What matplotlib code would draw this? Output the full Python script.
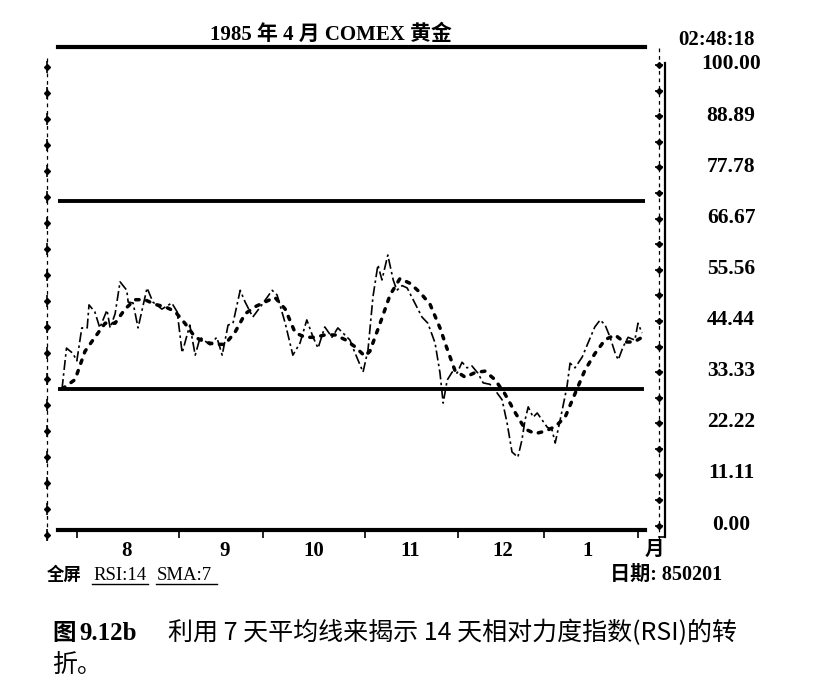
import matplotlib
matplotlib.use("Agg")
import matplotlib.pyplot as plt
import numpy as np

# ---------------- data ----------------
title = "1985 年 4 月 COMEX 黄金"
rsi_day = [0.0, 1.0, 2.4, 3.3, 4.4, 5.6, 6.0, 7.3, 8.4, 10.0, 10.7, 11.8, 12.9, 14.4, 14.7,
           15.8, 16.9, 18.9, 20.2, 22.2, 24.4, 25.6, 26.7, 28.4, 29.6, 30.7, 32.9, 34.4,
           35.6, 36.9, 38.0, 39.6, 40.7, 42.4, 44.4, 46.7, 47.8, 49.6, 51.3, 52.9, 54.4,
           55.8, 56.9, 58.4, 60.0, 61.3, 64.0, 65.1, 66.9, 68.0, 69.1, 70.2, 71.1, 72.4,
           73.6, 74.4, 75.6, 76.7, 78.4, 80.0, 81.3, 82.9, 84.0, 84.7, 85.6, 86.7, 87.8,
           88.9, 90.0, 91.1, 92.4, 93.6, 95.1, 96.2, 97.8, 98.9, 100.0, 101.3, 102.2,
           102.9, 103.6, 104.7, 105.6, 106.7, 107.8, 108.9, 109.6, 110.7, 111.3, 112.2,
           112.9, 114.0, 115.6, 116.9, 118.4, 119.6, 120.7, 121.8, 122.9, 123.6, 124.7,
           125.8, 127.3, 128.0, 128.9]
rsi_val = [30.0, 38.7, 37.6, 36.0, 43.0, 43.0, 47.9, 46.4, 43.0, 46.8, 43.0, 46.0, 52.8, 51.0, 48.5,
           48.3, 43.0, 51.5, 48.5, 47.0, 48.3, 46.4, 37.7, 43.6, 37.2, 41.0, 39.4, 41.0,
           37.2, 43.6, 44.0, 51.0, 48.5, 45.3, 47.9, 51.0, 50.0, 44.0, 37.2, 39.8, 44.7,
           41.0, 38.7, 43.2, 41.0, 43.0, 40.4, 37.7, 33.6, 38.3, 49.6, 56.4, 53.2, 58.5,
           53.2, 51.0, 52.0, 51.5, 48.3, 45.3, 44.0, 39.8, 33.4, 27.0, 31.9, 33.6, 33.4,
           35.7, 34.5, 34.9, 33.4, 31.3, 31.0, 29.8, 27.7, 22.8, 16.6, 15.5, 19.1,
           23.4, 26.2, 24.0, 24.9, 23.4, 21.9, 21.3, 18.5, 23.4, 26.2, 30.4,
           35.5, 34.5, 36.8, 39.8, 43.2, 44.7, 43.6, 41.0, 37.7, 36.2, 39.0,
           41.0, 40.4, 44.0, 41.9]
sma_day = [0.0, 2.9, 5.1, 7.3, 9.6, 11.8, 14.0, 16.2, 18.4, 20.7, 22.9, 25.1, 27.3, 29.6,
           31.8, 34.0, 36.2, 38.4, 40.7, 42.9, 45.1, 47.3, 49.6, 51.8, 54.0, 56.2, 58.4,
           60.7, 62.9, 65.1, 67.3, 68.4, 70.7, 72.9, 75.1, 77.3, 79.6, 81.8, 84.0, 85.6,
           87.3, 89.6, 91.8, 94.0, 96.2, 98.4, 100.7, 102.9, 105.1, 107.3, 109.6, 111.8,
           114.0, 116.2, 118.4, 120.7, 122.9, 124.9, 127.1, 128.9]
sma_val = [30.0, 32.0, 38.0, 41.0, 44.0, 44.0, 47.0, 49.0, 49.0, 48.0, 47.5, 46.5, 44.0, 41.0,
           40.0, 39.5, 39.5, 42.0, 46.0, 47.5, 48.5, 49.5, 47.0, 42.0, 41.0, 41.0, 41.5,
           41.5, 40.5, 39.0, 37.0, 38.0, 44.0, 50.0, 53.5, 52.5, 50.5, 48.0, 43.0, 38.5,
           34.0, 32.5, 33.5, 33.8, 32.0, 29.0, 25.0, 21.5, 20.5, 21.0, 22.0, 24.0,
           29.0, 34.0, 37.5, 40.5, 41.5, 40.0, 40.0, 41.0]
month_bounds = [3.3, 26.0, 44.7, 67.3, 88.0, 107.0, 128.0]
month_label_pos = [14.4, 36.2, 56.0, 77.3, 98.0, 116.7]
month_labels = ["8", "9", "10", "11", "12", "1"]
level_hi, level_lo = 70, 30
ytick_vals = [0.00, 11.11, 22.22, 33.33, 44.44, 55.56, 66.67, 77.78, 88.89, 100.00]

# ---------------- figure ----------------
W, H = 830, 694
fig = plt.figure(figsize=(W / 100, H / 100), dpi=100)
SER = ['Liberation Serif', 'Noto Sans CJK SC', 'DejaVu Sans']
CJK = ['Noto Sans CJK SC', 'Liberation Serif', 'DejaVu Sans']

def fx(px):
    return px / W

def fy(py):
    return 1 - py / H

ax_l, ax_r, ax_t, ax_b = 58, 645, 47, 530
ax = fig.add_axes([fx(ax_l), fy(ax_b), (ax_r - ax_l) / W, (ax_b - ax_t) / H])
ax.patch.set_alpha(0)
x0 = (ax_l - 62) / 4.5
x1 = (ax_r - 62) / 4.5
ax.set_xlim(x0, x1)
ax.set_ylim(0, (ax_b - ax_t) / 4.7)

ax.plot(rsi_day, rsi_val, color='black', lw=1.2, linestyle=(0, (6, 2, 1.5, 2)))
ax.plot(sma_day, sma_val, color='black', lw=2.5, linestyle=(0, (1.0, 2.2)),
        dash_capstyle='round')
ax.axhline(level_hi, color='black', lw=2.8)
ax.plot([x0, (642 - 62) / 4.5], [level_lo, level_lo], color='black', lw=2.8)

for s in ['left', 'right']:
    ax.spines[s].set_visible(False)
ax.spines['top'].set_linewidth(3)
ax.spines['bottom'].set_linewidth(3)
ax.set_yticks([])
ax.set_xticks(month_bounds)
ax.set_xticklabels([])
ax.tick_params(axis='x', which='major', length=6, width=1.2, direction='out')
ax.set_xticks(month_label_pos, minor=True)
ax.set_xticklabels(month_labels, minor=True)
ax.tick_params(axis='x', which='minor', length=0, pad=8)
for t in ax.get_xticklabels(minor=True):
    t.set_fontfamily(SER)
    t.set_fontweight('bold')
    t.set_fontsize(15)

# right-side value labels
ax2 = ax.twinx()
frac0 = (ax_b - 522) / (ax_b - ax_t)
frac1 = (ax_b - 62) / (ax_b - ax_t)
span = 100 / (frac1 - frac0)
lo = -frac0 * span
ax2.set_ylim(lo, lo + span)
ax2.set_yticks(ytick_vals)
ax2.set_yticklabels(["%.2f" % v for v in ytick_vals])
ax2.tick_params(axis='y', length=0, pad=(731 - ax_r) * 0.72)
for t in ax2.get_yticklabels():
    t.set_ha('center')
    t.set_fontfamily(SER)
    t.set_fontweight('bold')
    t.set_fontsize(15.5)
for s in ax2.spines.values():
    s.set_visible(False)

# overlay for decorations and text in pixel space
ov = fig.add_axes([0, 0, 1, 1], zorder=5)
ov.set_xlim(0, W)
ov.set_ylim(H, 0)
ov.axis('off')

# left dotted scale
ov.plot([47, 47], [58, 540], color='black', lw=0.9, linestyle=(0, (3, 3)))
ly = np.arange(67, 540, 26)
ov.plot([47] * len(ly), ly, 'D', color='black', ms=3)
ov.plot([47] * len(ly), ly, '|', color='black', ms=8, mew=1.2)
# right dotted scale
ov.plot([659, 659], [48, 540], color='black', lw=0.9, linestyle=(0, (3, 3)))
ry = np.arange(65, 535, 25.6)
ov.plot([659] * len(ry), ry, 'D', color='black', ms=3)
ov.plot([659] * len(ry), ry, '_', color='black', ms=6, mew=1.2)
ov.plot([665, 665], [63, 537], color='black', lw=1.6)
ov.plot([659, 665], [537, 537], color='black', lw=1.2)

# texts
ov.text(331, 35, title, ha='center', va='center', fontsize=15, fontweight='bold',
        family=SER)
ov.text(716, 40, "02:48:18", ha='center', va='center', fontsize=15, fontweight='bold',
        family=SER)
ov.text(654, 549, "月", ha='center', va='center', fontsize=14, fontweight='bold',
        family=CJK)
ov.text(47, 575, "全屏", ha='left', va='center', fontsize=12.5, fontweight='bold',
        family=CJK)
ov.text(93, 575, "RSI:14", ha='left', va='center', fontsize=13.5, family=SER)
ov.plot([92, 148], [584, 584], color='black', lw=1.0)
ov.text(157, 575, "SMA:7", ha='left', va='center', fontsize=13.5, family=SER)
ov.plot([156, 217], [584, 584], color='black', lw=1.0)
ov.text(722, 575, "日期: 850201", ha='right', va='center', fontsize=14.5,
        fontweight='bold', family=SER)

ov.text(52, 633, "图", ha='left', va='center', fontsize=17, fontweight='bold', family=CJK)
ov.text(79, 633, "9.12b", ha='left', va='center', fontsize=18, fontweight='bold',
        family=SER)
ov.text(168, 633, "利用 7 天平均线来揭示 14 天相对力度指数(RSI)的转", ha='left',
        va='center', fontsize=18, family=CJK)
ov.text(52, 665, "折。", ha='left', va='center', fontsize=18, family=CJK)

fig.savefig("out.png", dpi=100)
